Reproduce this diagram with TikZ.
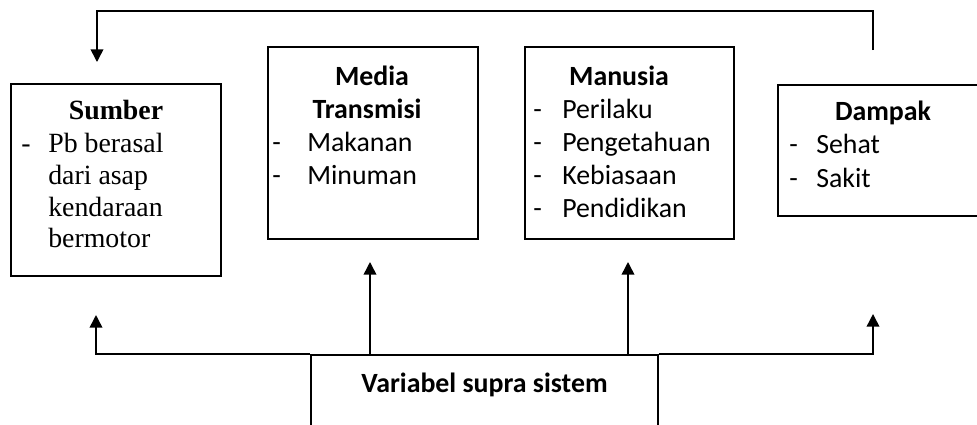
\documentclass[tikz,border=0pt]{standalone}
\usepackage{fontspec}
\setmainfont{Carlito}
\newfontfamily\timesfont{Liberation Serif}
\usetikzlibrary{arrows.meta}

\begin{document}
\begin{tikzpicture}[
    x=0.025cm, y=-0.025cm,
    every node/.append style={font=\fontsize{19.8}{23.5}\selectfont},
    % kotak dan teks
    kotak/.style={draw, line width=1.1pt, inner sep=0pt},
    judul/.style={anchor=base, inner sep=0pt, font=\fontsize{19.8}{23.5}\selectfont\bfseries},
    isi/.style={anchor=base west, inner sep=0pt},
    serif/.style={font=\fontsize{19.8}{23.5}\selectfont\timesfont},
    panah/.style={-{Triangle[length=9pt,width=9pt]}, line width=1.1pt},
]
\useasboundingbox (0,0) rectangle (977,424);
\clip (0,0) rectangle (977,424);

% ===== kotak =====
\node[kotak, minimum width=5.25cm, minimum height=4.8cm] (sumber) at (116,180) {};
\node[kotak, minimum width=5.25cm, minimum height=4.8cm] (media) at (373,143) {};
\node[kotak, minimum width=5.225cm, minimum height=4.8cm] (manusia) at (629.5,143) {};
\node[kotak, minimum width=5.25cm, minimum height=3.275cm] (dampak) at (883,150.5) {};
\node[kotak, minimum width=8.675cm, minimum height=2cm] (supra) at (484.5,395) {};

% ===== Sumber =====
\node[judul, font=\fontsize{19.8}{23.5}\selectfont\timesfont\bfseries] (tsumber) at (116,119) {Sumber};
\node[isi, serif] (ds1) at (21,152) {-};
\node[isi, serif] (s1) at (48,152) {Pb berasal};
\node[isi, serif] (s2) at (48,184) {dari asap};
\node[isi, serif] (s3) at (48,216) {kendaraan};
\node[isi, serif] (s4) at (48,247) {bermotor};

% ===== Media Transmisi =====
\node[judul] (tmedia1) at (372,85) {Media};
\node[judul] (tmedia2) at (367,118) {Transmisi};
\node[isi] (dm1) at (272,151) {-};
\node[isi] (m1) at (307,151) {Makanan};
\node[isi] (dm2) at (272,184) {-};
\node[isi] (m2) at (307,184) {Minuman};

% ===== Manusia =====
\node[judul] (tmanusia) at (619,85) {Manusia};
\node[isi] (dh1) at (533,118) {-};
\node[isi] (h1) at (562,118) {Perilaku};
\node[isi] (dh2) at (533,151) {-};
\node[isi] (h2) at (562,151) {Pengetahuan};
\node[isi] (dh3) at (533,184) {-};
\node[isi] (h3) at (562,184) {Kebiasaan};
\node[isi] (dh4) at (533,217) {-};
\node[isi] (h4) at (562,217) {Pendidikan};

% ===== Dampak =====
\node[judul] (tdampak) at (883,120) {Dampak};
\node[isi] (dd1) at (789,153) {-};
\node[isi] (d1) at (816,153) {Sehat};
\node[isi] (dd2) at (789,187) {-};
\node[isi] (d2) at (816,187) {Sakit};

% ===== Variabel supra sistem =====
\node[judul] (tsupra) at (484.5,392) {Variabel supra sistem};

% ===== panah =====
\coordinate (balik) at (873,50);
\coordinate (kesumber) at (97,62);
\draw[panah] (balik) -- ++(0,-39) -| (kesumber);

\coordinate (bsumber) at (96,315);
\coordinate (bmedia) at (370,262);
\coordinate (bmanusia) at (628,262);
\coordinate (bdampak) at (873,314);
\draw[panah] (supra.north west) -| (bsumber);
\draw[panah] (supra.north east) -| (bdampak);
\draw[panah] (supra.north -| bmedia) -- (bmedia);
\draw[panah] (supra.north -| bmanusia) -- (bmanusia);

\end{tikzpicture}
\end{document}
